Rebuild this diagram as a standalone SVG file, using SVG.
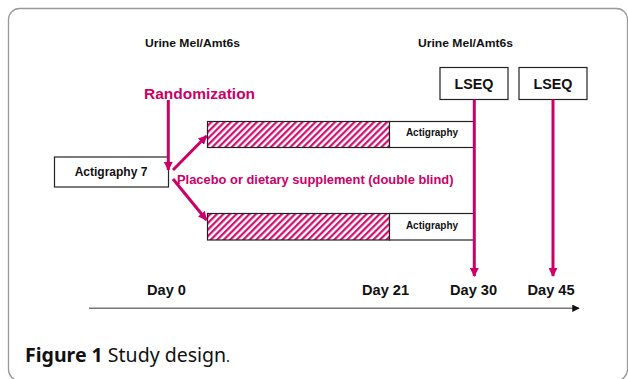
<svg xmlns="http://www.w3.org/2000/svg" width="628" height="379" viewBox="0 0 628 379">
<style>
.t{font-family:"Liberation Sans",Arial,sans-serif;font-weight:bold;fill:#111}
.p{font-family:"Liberation Sans",Arial,sans-serif;font-weight:bold;fill:#cc0066}
.box{fill:#fff;stroke:#222;stroke-width:1.2}
.pl{stroke:#cc0066;stroke-width:3;fill:none}
</style>
<defs>
<pattern id="hatch" patternUnits="userSpaceOnUse" width="4.6" height="4.6" patternTransform="rotate(45)">
<rect width="4.6" height="4.6" fill="#fff"/>
<line x1="1.2" y1="0" x2="1.2" y2="4.6" stroke="#cc0066" stroke-width="2.1"/>
</pattern>
<marker id="pa" viewBox="0 0 10 10" refX="9" refY="5" markerWidth="3" markerHeight="3" orient="auto" markerUnits="strokeWidth">
<path d="M0,0 L10,5 L0,10 z" fill="#cc0066"/>
</marker>
<marker id="ba" viewBox="0 0 10 10" refX="9" refY="5" markerWidth="6" markerHeight="5" orient="auto" markerUnits="strokeWidth">
<path d="M0,0 L10,5 L0,10 z" fill="#111"/>
</marker>
</defs>
<rect x="8.5" y="8.5" width="619" height="372" rx="11" fill="#fff" stroke="#999" stroke-width="1.3"/>

<text class="t" x="145" y="47" font-size="11.5" textLength="95" lengthAdjust="spacingAndGlyphs">Urine Mel/Amt6s</text>
<text class="t" x="418" y="47" font-size="11.5" textLength="95" lengthAdjust="spacingAndGlyphs">Urine Mel/Amt6s</text>
<text class="p" x="144" y="98.5" font-size="15.5">Randomization</text>

<g id="lseq1"><rect class="box" x="440" y="67.5" width="68" height="32"/><text class="t" x="474" y="89" font-size="14.3" text-anchor="middle">LSEQ</text></g>
<g id="lseq2"><rect class="box" x="519" y="67.5" width="68" height="32"/><text class="t" x="553" y="89" font-size="14.3" text-anchor="middle">LSEQ</text></g>

<g id="actigraphy7"><rect class="box" x="54.5" y="157" width="114" height="30"/><text class="t" x="111" y="176" font-size="12" text-anchor="middle">Actigraphy 7</text></g>

<g id="armTop">
<rect x="207.5" y="121.5" width="182" height="26" fill="url(#hatch)" stroke="#222" stroke-width="1.2"/>
<rect class="box" x="389.5" y="121.5" width="84.5" height="26"/>
<text class="t" x="432" y="136" font-size="10" text-anchor="middle">Actigraphy</text>
</g>
<g id="armBottom">
<rect x="207.5" y="213.5" width="182" height="26.5" fill="url(#hatch)" stroke="#222" stroke-width="1.2"/>
<rect class="box" x="389.5" y="213.5" width="84.5" height="26.5"/>
<text class="t" x="432" y="228.5" font-size="10" text-anchor="middle">Actigraphy</text>
</g>

<text class="p" x="177" y="184" font-size="12.9">Placebo or dietary supplement (double blind)</text>

<g id="connectors">
<line class="pl" x1="168.3" y1="100" x2="168.3" y2="170" marker-end="url(#pa)"/>
<line class="pl" x1="173" y1="170" x2="206.5" y2="136" marker-end="url(#pa)"/>
<line class="pl" x1="173" y1="179" x2="206.5" y2="220" marker-end="url(#pa)"/>
<line class="pl" x1="474.3" y1="99.5" x2="474.3" y2="276" marker-end="url(#pa)"/>
<line class="pl" x1="553" y1="99.5" x2="553" y2="276" marker-end="url(#pa)"/>
<line x1="89" y1="308.3" x2="579" y2="308.3" stroke="#777" stroke-width="1.5" marker-end="url(#ba)"/>
</g>

<text class="t" x="147" y="295" font-size="14.6">Day 0</text>
<text class="t" x="362" y="295" font-size="14.6">Day 21</text>
<text class="t" x="450" y="295" font-size="14.6">Day 30</text>
<text class="t" x="527.5" y="295" font-size="14.6">Day 45</text>

<text x="25" y="362" font-family="'Noto Sans','Open Sans',sans-serif" font-size="19" fill="#111" textLength="205" lengthAdjust="spacingAndGlyphs"><tspan font-weight="bold">Figure 1</tspan> Study design<tspan font-size="14">.</tspan></text>
</svg>
